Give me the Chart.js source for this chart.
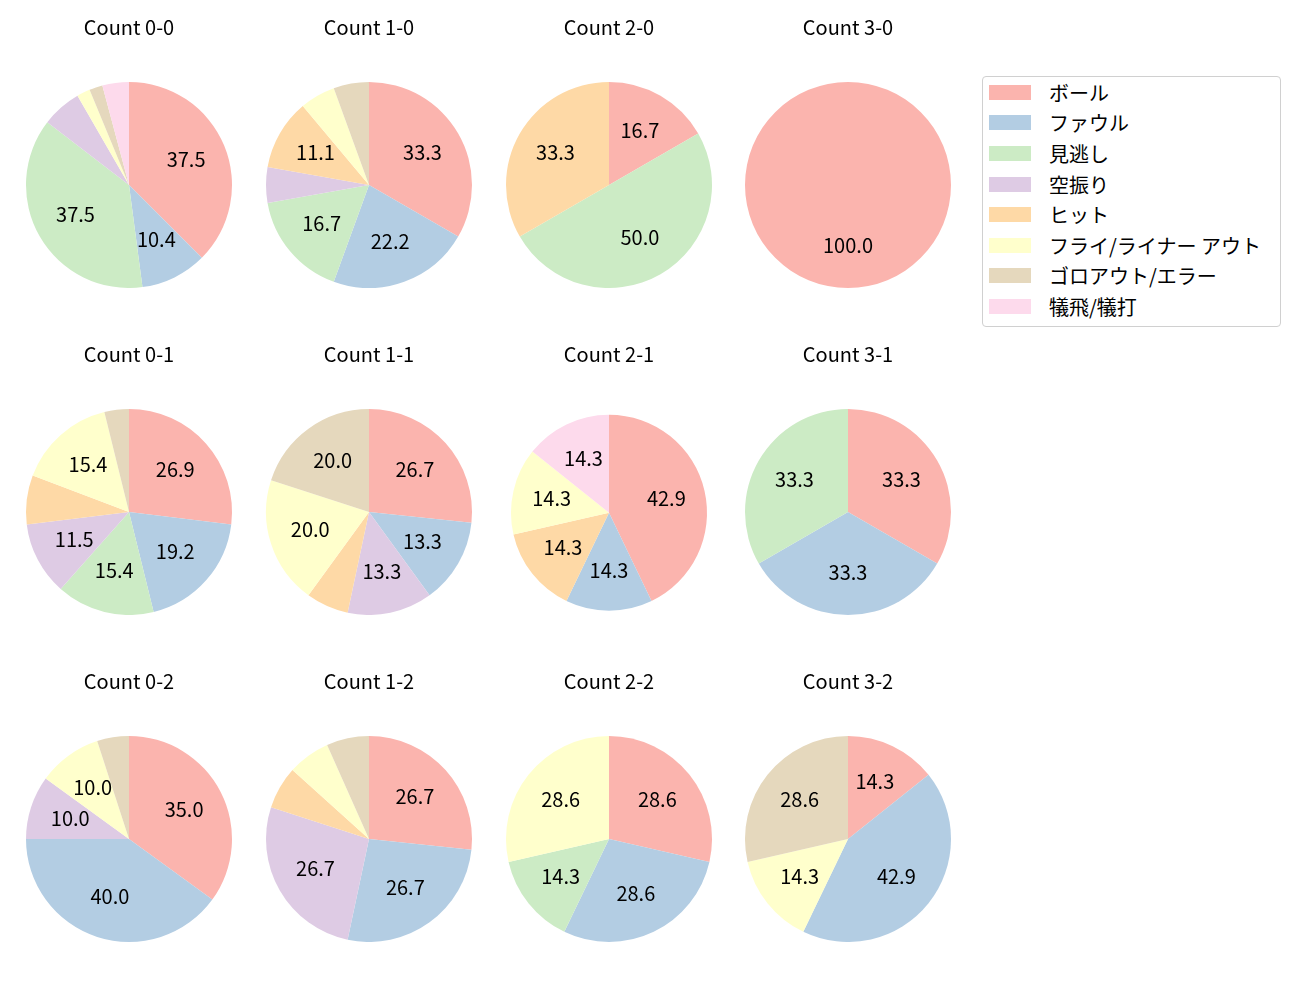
<!DOCTYPE html>
<html>
<head>
<meta charset="utf-8">
<script src="https://cdn.jsdelivr.net/npm/chart.js@4/dist/chart.umd.min.js"></script>
<style>
  body { margin: 0; background: #fff; width: 1300px; height: 1000px; position: relative; overflow: hidden;
    font-family: "Noto Sans CJK JP", "DejaVu Sans", sans-serif; }
  .cell { position: absolute; width: 240px; height: 288px; }
  #legend { position: absolute; left: 982px; top: 76px; width: 299px; height: 251px;
    border: 1px solid #d0d0d0; border-radius: 4px; box-sizing: border-box; padding-top: 0; }
  .row { height: 30.6px; display: flex; align-items: center; font-size: 20px; color: #000; }
  .sw { width: 42px; height: 15px; margin-left: 6px; margin-right: 18px; }
</style>
</head>
<body>
<div id="legend"></div>
<script>
const outcomes = ['ボール', 'ファウル', '見逃し', '空振り', 'ヒット', 'フライ/ライナー アウト', 'ゴロアウト/エラー', '犠飛/犠打'];
const colors = ['#fbb4ae', '#b3cde3', '#ccebc5', '#decbe4', '#fed9a6', '#ffffcc', '#e5d8bd', '#fddaec'];
const counts = ['0-0', '1-0', '2-0', '3-0', '0-1', '1-1', '2-1', '3-1', '0-2', '1-2', '2-2', '3-2'];

// pitches by outcome for each count (same order as outcomes)
const c00 = [18, 5, 18, 3, 0, 1, 1, 2];
const c10 = [6, 4, 3, 1, 2, 1, 1, 0];
const c20 = [1, 0, 3, 0, 2, 0, 0, 0];
const c30 = [1, 0, 0, 0, 0, 0, 0, 0];
const c01 = [7, 5, 4, 3, 2, 4, 1, 0];
const c11 = [4, 2, 0, 2, 1, 3, 3, 0];
const c21 = [3, 1, 0, 0, 1, 1, 0, 1];
const c31 = [1, 1, 1, 0, 0, 0, 0, 0];
const c02 = [7, 8, 0, 2, 0, 2, 1, 0];
const c12 = [4, 4, 0, 4, 1, 1, 1, 0];
const c22 = [2, 2, 1, 0, 0, 2, 0, 0];
const c32 = [1, 3, 0, 0, 0, 1, 2, 0];
const allData = [c00, c10, c20, c30, c01, c11, c21, c31, c02, c12, c22, c32];

const FONT = '"Noto Sans CJK JP", "DejaVu Sans", sans-serif';

// legend
const legend = document.getElementById('legend');
outcomes.forEach(function (name, i) {
  const row = document.createElement('div');
  row.className = 'row';
  row.innerHTML = '<div class="sw" style="background:' + colors[i] + '"></div><span>' + name + '</span>';
  legend.appendChild(row);
});

// percentage labels inside the slices
const pctLabels = {
  id: 'pctLabels',
  afterDatasetsDraw: function (chart) {
    const ctx = chart.ctx;
    const data = chart.data.datasets[0].data;
    const total = data.reduce(function (a, b) { return a + b; }, 0);
    const meta = chart.getDatasetMeta(0);
    ctx.save();
    ctx.font = '20px ' + FONT;
    ctx.fillStyle = '#000';
    ctx.textAlign = 'center';
    ctx.textBaseline = 'middle';
    meta.data.forEach(function (arc, i) {
      const pct = data[i] / total * 100;
      if (pct < 9) return;
      const mid = (arc.startAngle + arc.endAngle) / 2;
      const r = arc.outerRadius * 0.6;
      ctx.fillText(pct.toFixed(1), arc.x + Math.cos(mid) * r, arc.y + Math.sin(mid) * r - 1.5);
    });
    ctx.restore();
  }
};

counts.forEach(function (name, k) {
  const col = k % 4, rowIdx = Math.floor(k / 4);
  const cx = 129 + col * 239.8;
  const cell = document.createElement('div');
  cell.className = 'cell';
  cell.style.left = (cx - 120) + 'px';
  cell.style.top = (rowIdx * 327) + 'px';
  const canvas = document.createElement('canvas');
  cell.appendChild(canvas);
  document.body.appendChild(cell);
  // the 2-1 pie is drawn a bit smaller in the original
  const small = name === '2-1';
  new Chart(canvas, {
    type: 'pie',
    data: {
      labels: outcomes,
      datasets: [{ data: allData[k], backgroundColor: colors, borderWidth: 0 }]
    },
    options: {
      responsive: true,
      maintainAspectRatio: false,
      animation: false,
      rotation: 0,
      layout: { padding: small ? { left: 22, right: 22, top: 0, bottom: 4.3 } : { left: 17, right: 17, top: 0, bottom: 0 } },
      plugins: {
        legend: { display: false },
        tooltip: { enabled: false },
        title: {
          display: true,
          text: 'Count ' + name,
          color: '#000',
          font: { size: 20, weight: 'normal', family: FONT, lineHeight: 1.2 },
          padding: { top: 15.5, bottom: small ? 48.2 : 42.5 }
        }
      }
    },
    plugins: [pctLabels]
  });
});
</script>
</body>
</html>
